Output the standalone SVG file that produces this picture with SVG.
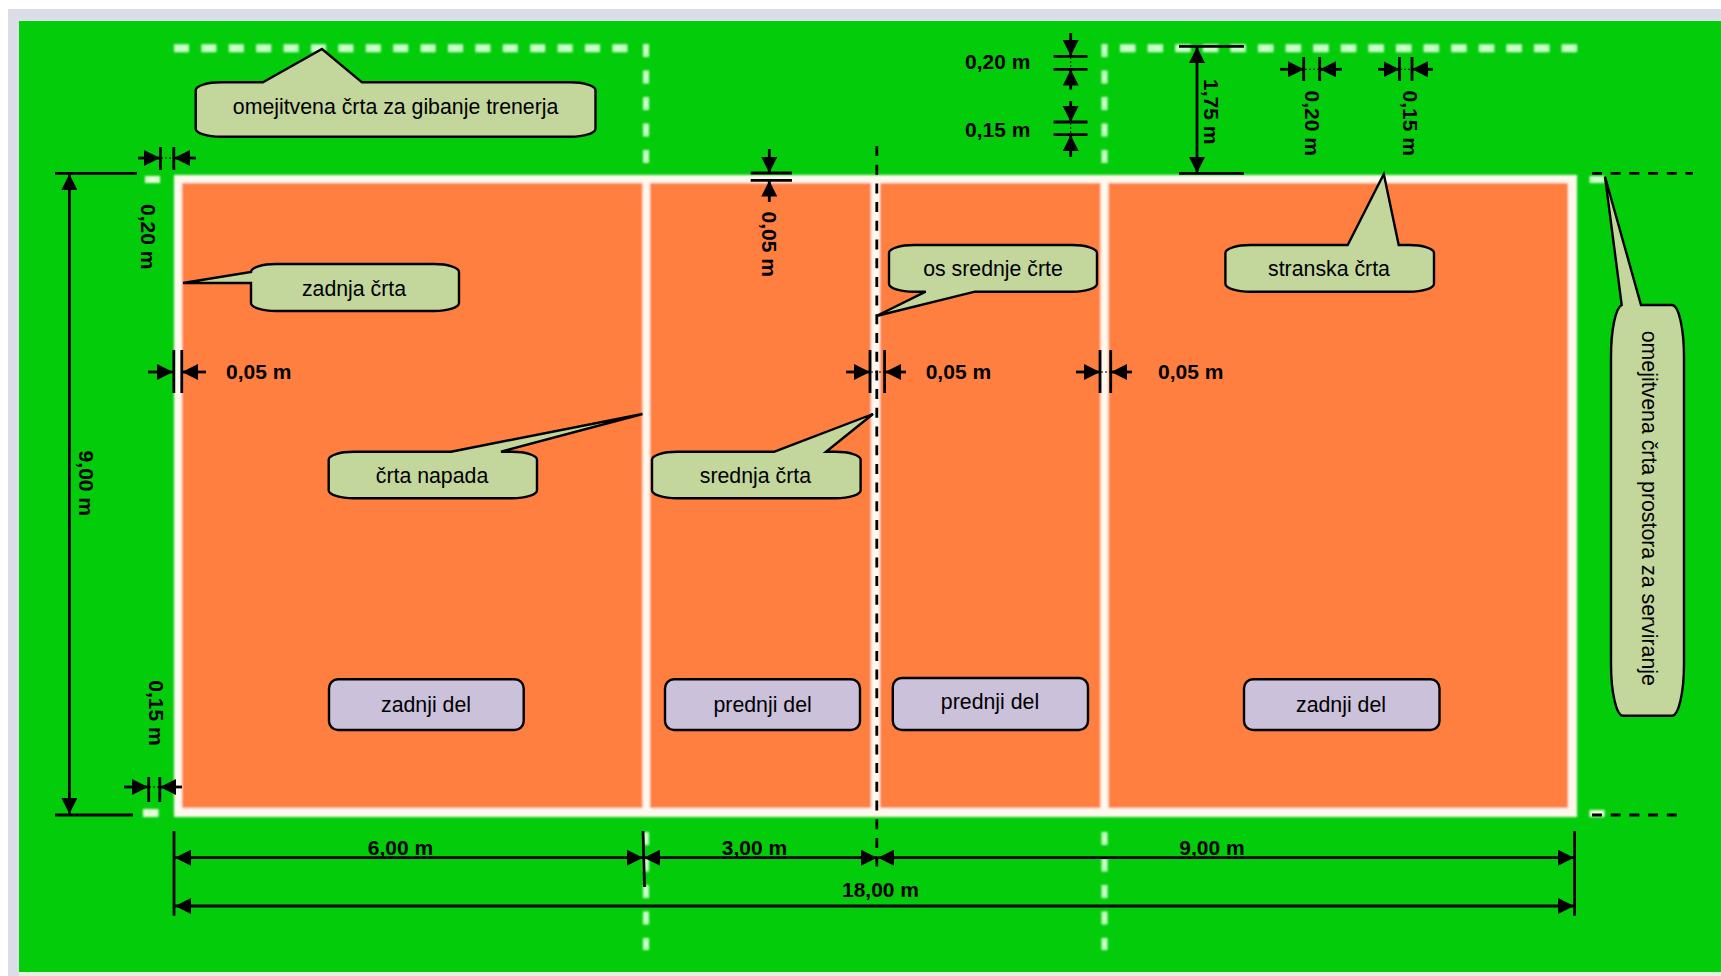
<svg xmlns="http://www.w3.org/2000/svg" width="1721" height="976" viewBox="0 0 1721 976">
<style>
text{font-family:"Liberation Sans",Arial,sans-serif;fill:#000}
.t{font-size:21.300px;text-anchor:middle}
.b{font-size:21px;font-weight:bold}
.bm{font-size:21px;font-weight:bold;text-anchor:middle}
.c{fill:#C3D69B;stroke:#000;stroke-width:2.400;stroke-linejoin:miter}
.p{fill:#CCC1DA;stroke:#000;stroke-width:2.400}
.d{stroke:#C8FFC8;fill:none}
.l{stroke:#000;stroke-width:2.800;fill:none}
.a{stroke:#000;stroke-width:2.800;fill:none;marker-end:url(#ah)}
.s{stroke:#000;stroke-width:1;fill:none;stroke-dasharray:2 2}
.k{stroke:#000;stroke-width:2.800;fill:none;stroke-dasharray:10 8.700}
</style>
<defs>
<marker id="ah" markerUnits="userSpaceOnUse" markerWidth="16" markerHeight="16" refX="16" refY="8" orient="auto"><path d="M0 0L16 8L0 16Z" fill="#000"/></marker>
<filter id="soft" filterUnits="userSpaceOnUse" x="0" y="0" width="1721" height="976"><feGaussianBlur stdDeviation="0.800"/></filter>
</defs>
<rect width="1721" height="976" fill="#fff"/>
<rect x="8" y="9" width="1713" height="967" fill="#DBDDE9"/>
<rect x="19" y="21" width="1702" height="955" fill="#E4F2DF"/>
<rect x="19" y="21" width="1702" height="951" fill="#03CC0A"/>

<g id="court" filter="url(#soft)">
<rect x="174" y="175" width="1403" height="642" fill="#FFF8EE"/>
<rect x="182" y="183" width="460.500" height="625" fill="#FF7F41"/>
<rect x="650" y="183" width="221" height="625" fill="#FF7F41"/>
<rect x="880" y="183" width="220.500" height="625" fill="#FF7F41"/>
<rect x="1108.500" y="183" width="459.500" height="625" fill="#FF7F41"/>
</g>

<g id="boundary-dashes" filter="url(#soft)">
<path class="d" stroke-width="8" stroke-dasharray="15 12.400" d="M174 48.300H630"/>
<path class="d" stroke-width="8" stroke-dasharray="15.500 12.100" d="M1120 48.300H1578"/>
<path class="d" stroke-width="6" stroke-dasharray="13 13.500" d="M646 44V163M1104.500 44V163M646 832V950M1104.500 832V950"/>
<rect x="145" y="176" width="15" height="7" fill="#E6FFD9"/>
<rect x="143" y="809" width="15.500" height="8" fill="#E6FFD9"/>
<rect x="1589.500" y="176" width="15.500" height="7" fill="#CCFFCC"/>
<rect x="1589.500" y="810" width="15" height="7" fill="#E6FFD9"/>
</g>

<g id="connectors">
<path class="k" d="M876.800 146V867" stroke-dasharray="9 5"/>
<path class="k" d="M1592 173.300H1693"/>
<path class="k" d="M1592 815H1677"/>

<path class="l" d="M55 173.300H137M55 815H133"/>
<path class="a" d="M69.400 480V174"/>
<path class="a" d="M69.400 480V814"/>

<path class="l" d="M160.400 147V170M173.800 147V170"/>
<path class="a" d="M138 158H160"/><path class="a" d="M196 158H174"/><path class="s" d="M161 158H173"/>

<path class="l" d="M173.800 350V393M181.800 350V393"/>
<path class="a" d="M148 372H173"/><path class="a" d="M206 372H182"/>

<path class="l" d="M870 350V393M884.600 350V393"/>
<path class="a" d="M846 372H870"/><path class="a" d="M906 372H885"/><path class="s" d="M871 372H884"/>

<path class="l" d="M1100 350V393M1110.700 350V393"/>
<path class="a" d="M1076 372H1100"/><path class="a" d="M1132 372H1111"/><path class="s" d="M1101 372H1110"/>

<path class="l" d="M148.700 777V802M159.800 777V802"/>
<path class="a" d="M124 787H148"/><path class="a" d="M182 787H160"/><path class="s" d="M149 787H159"/>

<path class="l" d="M750.700 173H792M750.700 180.300H792"/>
<path class="a" d="M769.300 149V173"/><path class="a" d="M769.300 202V180.500"/>

<path class="l" d="M1053.600 56.300H1087.500M1053.600 69.300H1087.500"/>
<path class="a" d="M1070.700 33V56"/><path class="a" d="M1070.700 89.500V69.500"/><path class="s" d="M1070.700 57V69"/>

<path class="l" d="M1053.600 122H1087.500M1053.600 134.700H1087.500"/>
<path class="a" d="M1070.700 101V122"/><path class="a" d="M1070.700 157V135"/><path class="s" d="M1070.700 123V134"/>

<path class="l" d="M1179 46.300H1244M1179 173.300H1244"/>
<path class="a" d="M1197 110V47"/><path class="a" d="M1197 110V173"/>

<path class="l" d="M1303.700 57V81M1319.700 57V81"/>
<path class="a" d="M1280 69.300H1304"/><path class="a" d="M1342 69.300H1320"/><path class="s" d="M1305 69.300H1319"/>

<path class="l" d="M1399.500 57V81M1412 57V81"/>
<path class="a" d="M1378 69.300H1399.500"/><path class="a" d="M1433 69.300H1412"/><path class="s" d="M1400 69.300H1411"/>

<path class="l" d="M174 831V915.700M1574.600 831V915.700M643 831L644.500 887"/>
<path class="a" d="M410 857.700H175"/><path class="a" d="M410 857.700H643"/>
<path class="a" d="M760 857.700H644"/><path class="a" d="M760 857.700H877"/>
<path class="a" d="M1200 857.700H878"/><path class="a" d="M1200 857.700H1574"/>
<path class="a" d="M880 906H175"/><path class="a" d="M880 906H1574"/>
</g>

<g id="dimension-labels">
<text class="bm" transform="translate(79 483.300) rotate(90)">9,00 m</text>
<text class="bm" transform="translate(141 236.700) rotate(90)">0,20 m</text>
<text class="bm" transform="translate(148.500 713) rotate(90)">0,15 m</text>
<text class="bm" transform="translate(762.400 244.200) rotate(90)">0,05 m</text>
<text class="bm" transform="translate(1204.300 111.700) rotate(90)">1,75 m</text>
<text class="bm" transform="translate(1305.200 123.200) rotate(90)">0,20 m</text>
<text class="bm" transform="translate(1403 123.200) rotate(90)">0,15 m</text>
<text class="b" x="226" y="379">0,05 m</text>
<text class="b" x="925.700" y="379">0,05 m</text>
<text class="b" x="1158" y="379">0,05 m</text>
<text class="b" x="965" y="69">0,20 m</text>
<text class="b" x="965" y="136.700">0,15 m</text>
<text class="bm" x="400.500" y="855">6,00 m</text>
<text class="bm" x="754.500" y="855">3,00 m</text>
<text class="bm" x="1212" y="855">9,00 m</text>
<text class="bm" x="880.500" y="897">18,00 m</text>
</g>

<g id="callout-coach-line">
<path class="c" d="M263 82.300L322 49L362 82.300H570A25.500 8 0 0 1 595.500 90.300V128.700A25.500 8 0 0 1 570 136.700H221A25.500 8 0 0 1 195.700 128.700V90.300A25.500 8 0 0 1 221 82.300Z"/>
<text class="t" x="395.600" y="114">omejitvena črta za gibanje trenerja</text>
</g>
<g id="callout-back-line">
<path class="c" d="M183 283L251 272A25 8 0 0 1 276 264H434A25 8 0 0 1 459 272V303A25 8 0 0 1 434 311H276A25 8 0 0 1 251 303V283Z"/>
<text class="t" x="354" y="296">zadnja črta</text>
</g>
<g id="callout-attack-line">
<path class="c" d="M451 451.700L642.500 414L501 451.700H512A25 8 0 0 1 537 459.700V490.300A25 8 0 0 1 512 498.300H353.700A25 8 0 0 1 328.700 490.300V459.700A25 8 0 0 1 353.700 451.700Z"/>
<text class="t" x="432" y="482.700">črta napada</text>
</g>
<g id="callout-centre-line">
<path class="c" d="M774.500 451.700L873 414L826 451.700H835.600A25 8 0 0 1 860.600 459.700V490.300A25 8 0 0 1 835.600 498.300H677A25 8 0 0 1 652 490.300V459.700A25 8 0 0 1 677 451.700Z"/>
<text class="t" x="755.400" y="482.700">srednja črta</text>
</g>
<g id="callout-centre-axis">
<path class="c" d="M925.700 291.700L876.400 316L975 291.700H1072A25 8 0 0 0 1097 283.700V253A25 8 0 0 0 1072 245H914A25 8 0 0 0 889 253V283.700A25 8 0 0 0 914 291.700Z"/>
<text class="t" x="993" y="275.600">os srednje črte</text>
</g>
<g id="callout-side-line">
<path class="c" d="M1347.700 245L1383.800 174L1398.700 245H1409A25 8 0 0 1 1434 253V283.700A25 8 0 0 1 1409 291.700H1250.400A25 8 0 0 1 1225.400 283.700V253A25 8 0 0 1 1250.400 245Z"/>
<text class="t" x="1329" y="275.600">stranska črta</text>
</g>
<g id="callout-service-line">
<path class="c" d="M1605 176.700L1641 305H1672A12 52 0 0 1 1684 357V663.700A12 52 0 0 1 1672 715.700H1623A12 52 0 0 1 1611 663.700V357A12 52 0 0 1 1621.700 305Z"/>
<text class="t" transform="translate(1641.700 508.300) rotate(90)">omejitvena črta prostora za serviranje</text>
</g>

<g id="zone-back-left"><rect class="p" x="329" y="679.300" width="194.700" height="50.700" rx="9"/><text class="t" x="426" y="711.700">zadnji del</text></g>
<g id="zone-front-left"><rect class="p" x="665" y="679.300" width="195" height="50.700" rx="9"/><text class="t" x="762.600" y="711.700">prednji del</text></g>
<g id="zone-front-right"><rect class="p" x="892.800" y="678" width="195.200" height="52" rx="9"/><text class="t" x="990" y="709">prednji del</text></g>
<g id="zone-back-right"><rect class="p" x="1244" y="679.300" width="195.500" height="50.700" rx="9"/><text class="t" x="1341" y="711.700">zadnji del</text></g>
</svg>
